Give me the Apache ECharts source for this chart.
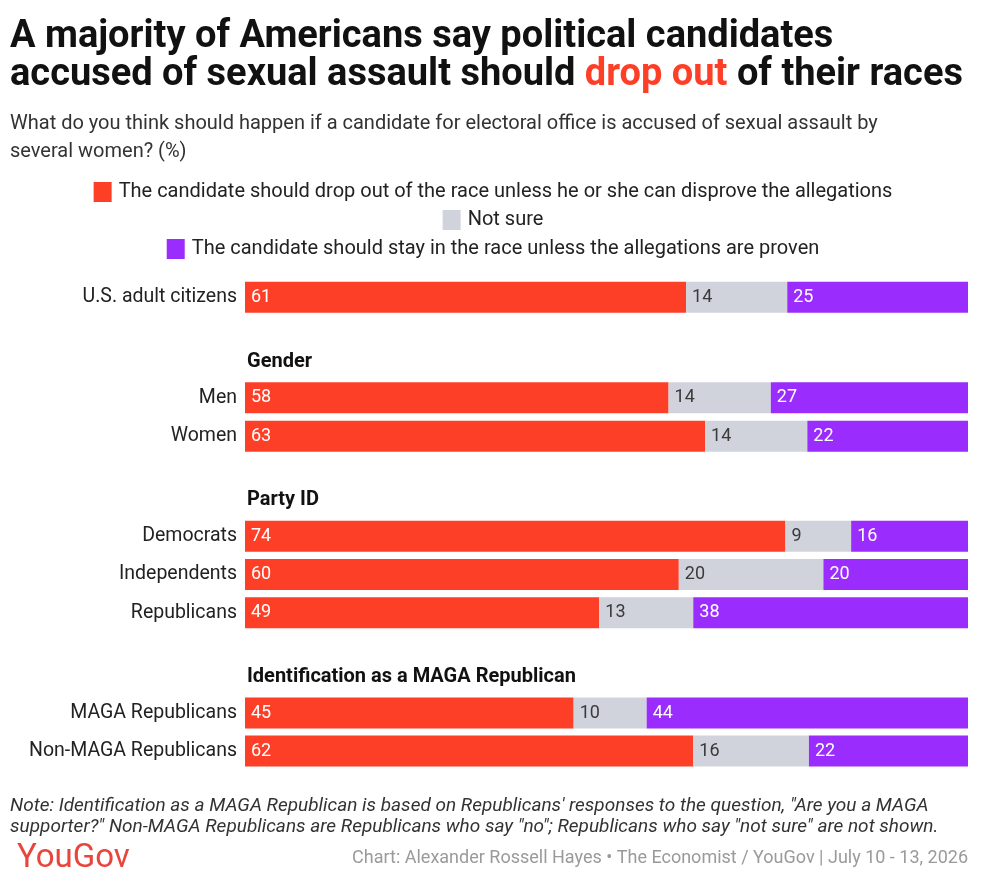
<!DOCTYPE html>
<html>
<head>
<meta charset="utf-8">
<title>Candidates accused of sexual assault</title>
<script src="https://cdn.jsdelivr.net/npm/echarts@6/dist/echarts.min.js"></script>
<style>
  html, body { margin: 0; padding: 0; background: #fff; }
  #chart { width: 986px; height: 889px; }
</style>
</head>
<body>
<div id="chart"></div>
<script>
  // rows, in drawing order
  const categories = ['U.S. adult citizens', 'Men', 'Women', 'Democrats', 'Independents', 'Republicans', 'MAGA Republicans', 'Non-MAGA Republicans'];
  const rowGroup = [0, 1, 1, 2, 2, 2, 3, 3];
  const groupTitles = ['', 'Gender', 'Party ID', 'Identification as a MAGA Republican'];

  const answers = [
    'The candidate should drop out of the race unless he or she can disprove the allegations',
    'Not sure',
    'The candidate should stay in the race unless the allegations are proven',
  ];
  const dropOut = [61, 58, 63, 74, 60, 49, 45, 62];
  const notSure = [14, 14, 14, 9, 20, 13, 10, 16];
  const stayIn = [25, 27, 22, 16, 20, 38, 44, 22];

  const colors = ['#fe3f27', '#d0d3dc', '#9a2dfd'];
  const labelColors = ['#fff', '#3a3a3a', '#fff'];
  const font = 'Roboto, "Noto Sans", sans-serif';

  // one grid per group, placed so that rows line up with the reference
  const gridBoxes = [
    { top: 278, height: 38.5 },
    { top: 378.5, height: 77 },
    { top: 517, height: 115 },
    { top: 694, height: 76 },
  ];

  const chart = echarts.init(document.getElementById('chart'));
  const valueSets = [dropOut, notSure, stayIn];

  const grids = gridBoxes.map((box) => ({ left: 245, right: 18, top: box.top, height: box.height }));
  const xAxes = gridBoxes.map((_, i) => ({ type: 'value', gridIndex: i, min: 0, max: 100, show: false }));
  const yAxes = gridBoxes.map((_, g) => ({
    type: 'category',
    gridIndex: g,
    inverse: true,
    data: categories.filter((_, i) => rowGroup[i] === g),
    axisLine: { show: false },
    axisTick: { show: false },
    axisLabel: { color: '#222', fontSize: 19.5, fontFamily: font, margin: 8 },
    name: groupTitles[g],
    nameLocation: 'start',
    nameGap: 17,
    nameTextStyle: {
      color: '#111', fontSize: 20, fontWeight: 'bold', fontFamily: font,
      align: 'left', verticalAlign: 'middle', padding: [0, 0, 0, 2],
    },
  }));

  const series = [];
  gridBoxes.forEach((_, g) => {
    const rows = categories.map((_, i) => i).filter((i) => rowGroup[i] === g);
    valueSets.forEach((values, k) => {
      series.push({
        name: answers[k],
        type: 'bar',
        stack: 'g' + g,
        xAxisIndex: g,
        yAxisIndex: g,
        barWidth: 31,
        itemStyle: { color: colors[k] },
        label: {
          show: true,
          position: 'insideLeft',
          distance: 6,
          color: labelColors[k],
          fontSize: 18,
          fontFamily: font,
          formatter: (p) => String(p.data.raw),
        },
        // rows that add to 99 are stretched to the full width, as in the original
        data: rows.map((i) => {
          const total = dropOut[i] + notSure[i] + stayIn[i];
          return { value: (values[i] / total) * 100, raw: values[i] };
        }),
      });
    });
  });

  const legendTops = [182, 210, 239];
  const legends = answers.map((name, k) => ({
    data: [name],
    top: legendTops[k],
    left: 'center',
    padding: 0,
    icon: 'rect',
    itemWidth: 18,
    itemHeight: 20,
    selectedMode: false,
    textStyle: { color: '#222', fontSize: 20, fontFamily: font, padding: [0, 0, 0, 2] },
  }));

  chart.setOption({
    animation: false,
    backgroundColor: '#fff',
    title: [
      {
        text: 'A majority of Americans say political candidates\naccused of sexual assault should {r|drop out} of their races',
        left: 10,
        top: 19,
        padding: 0,
        textStyle: {
          color: '#111', fontSize: 38, fontWeight: 'bold', fontFamily: font, lineHeight: 37.5,
          rich: { r: { color: '#fe3f27', fontSize: 38, fontWeight: 'bold', fontFamily: font, lineHeight: 37.5 } },
        },
      },
      {
        text: 'What do you think should happen if a candidate for electoral office is accused of sexual assault by\nseveral women? (%)',
        left: 10,
        top: 110,
        padding: 0,
        textStyle: { color: '#333', fontSize: 20, fontWeight: 'normal', fontFamily: font, lineHeight: 28 },
      },
      {
        text: 'Note: Identification as a MAGA Republican is based on Republicans\' responses to the question, "Are you a MAGA\nsupporter?" Non-MAGA Republicans are Republicans who say "no"; Republicans who say "not sure" are not shown.',
        left: 10,
        top: 796,
        padding: 0,
        textStyle: { color: '#333', fontSize: 19, fontStyle: 'italic', fontWeight: 'normal', fontFamily: font, lineHeight: 21 },
      },
      {
        text: 'YouGov',
        left: 17,
        top: 842,
        padding: 0,
        textStyle: { color: '#e8453c', fontSize: 33, fontWeight: 'normal', fontFamily: font },
      },
      {
        text: 'Chart: Alexander Rossell Hayes \u2022 The Economist / YouGov | July 10 - 13, 2026',
        right: 18,
        top: 849,
        padding: 0,
        textStyle: { color: '#9a9a9a', fontSize: 18, fontWeight: 'normal', fontFamily: font },
      },
    ],
    legend: legends,
    grid: grids,
    xAxis: xAxes,
    yAxis: yAxes,
    series: series,
  });
</script>
</body>
</html>
